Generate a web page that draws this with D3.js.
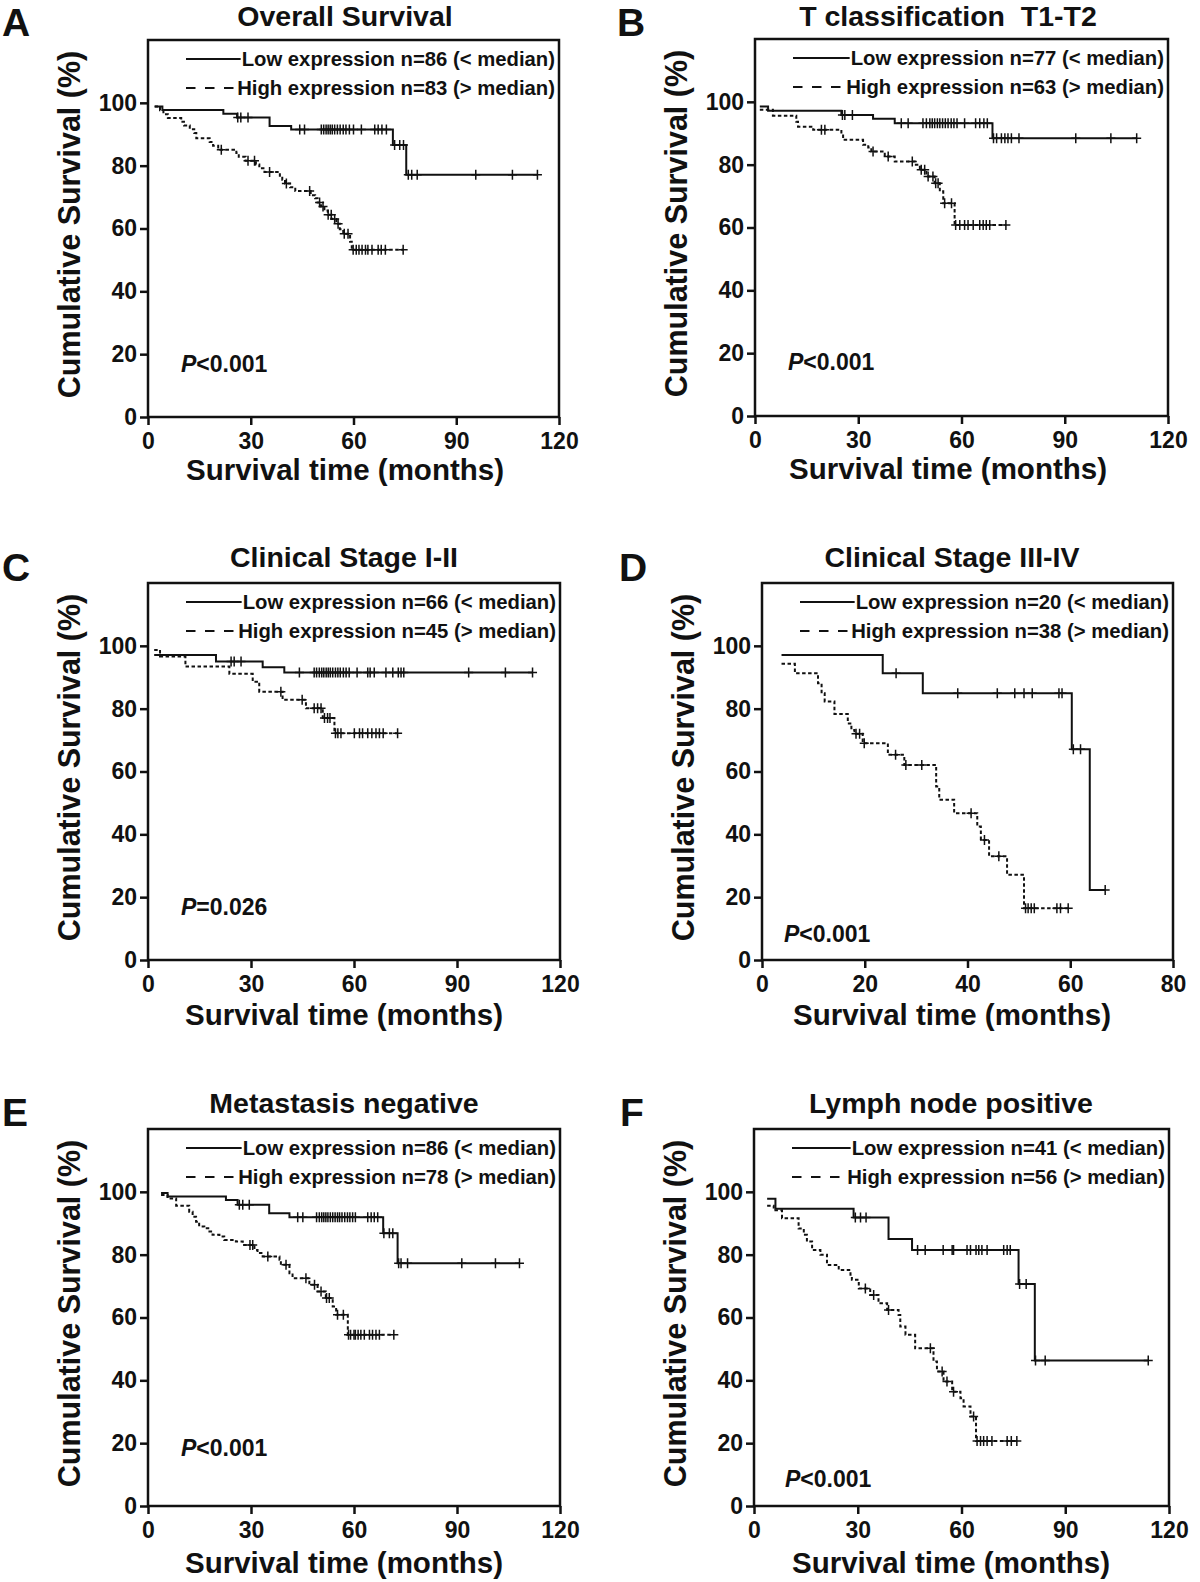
<!DOCTYPE html>
<html>
<head>
<meta charset="utf-8">
<script src="https://cdn.jsdelivr.net/npm/d3@7"></script>
<style>
  html, body { margin: 0; padding: 0; background: #fff; }
  svg text { font-family: "Liberation Sans", Arial, Helvetica, sans-serif; font-weight: bold; fill: #111; }
</style>
</head>
<body>
<svg id="chart" width="1200" height="1582"></svg>
<script>
// --- Data (months, cumulative survival %) ---
const panelLetters = ["A", "B", "C", "D", "E", "F"];
const panelTitles = ["Overall Survival", "T classification  T1-T2", "Clinical Stage I-II",
                     "Clinical Stage III-IV", "Metastasis negative", "Lymph node positive"];
const lowCounts = [86, 77, 66, 20, 86, 41];
const highCounts = [83, 63, 45, 38, 78, 56];
const pLabels = ["<0.001", "<0.001", "=0.026", "<0.001", "<0.001", "<0.001"];
const xMaxes = [120, 120, 120, 80, 120, 120];
const xTickSteps = [30, 30, 30, 20, 30, 30];
const yTicks = [0, 20, 40, 60, 80, 100];

// A - overall survival
const aLowSteps = [[2, 98.8], [4.2, 97.7], [22, 96.5], [26, 95.3], [35.5, 92.6], [41.8, 91.5], [71.5, 86.6], [75.4, 77.1]];
const aLowCensor = [26.2, 27.1, 29.2, 44.3, 45.7, 50.6, 51.3, 52.0, 52.6, 53.2, 53.8, 54.5, 55.3, 56.1, 57.0, 57.8, 58.8,
                    60.0, 62.3, 66.2, 67.2, 68.3, 69.6, 72.0, 73.5, 74.6, 76.0, 77.0, 78.6, 95.7, 106.4, 113.7];
const aHighSteps = [[1.9, 98.8], [3.5, 97.6], [4.5, 96.4], [5.8, 95.2], [9.7, 94.0], [10.5, 92.8], [12.2, 91.6], [13.5, 90.4],
                    [14.1, 88.7], [18, 87.5], [19, 86.3], [20.5, 85.1], [25.8, 84.0], [26.5, 82.8], [28.5, 81.6], [31.5, 80.4],
                    [32.5, 79.2], [34, 78.0], [38.5, 76.8], [39.2, 75.5], [40, 74.3], [41.5, 73.1], [43, 71.9], [47.5, 70.6],
                    [48.8, 69.6], [49.5, 68.3], [50.5, 67.0], [51.5, 65.7], [52.5, 64.4], [53.6, 63.0], [55.0, 61.5],
                    [56.0, 59.8], [57.0, 58.3], [59.0, 55.8], [59.5, 53.2]];
const aHighCensor = [21.4, 29.2, 31.1, 35.5, 40.4, 47.2, 50.1, 51.1, 52.6, 53.5, 54.5, 55.5, 57.3, 58.4, 59.9, 60.8, 61.6,
                     62.5, 63.5, 64.2, 65.4, 67.2, 68.1, 69.3, 74.5];

// B - T1-T2
const bLowSteps = [[1.4, 98.5], [3.8, 97.2], [25.1, 95.8], [34.3, 94.6], [40.6, 93.2], [69.0, 88.4]];
const bLowCensor = [25.4, 26.1, 28.3, 42.5, 44.5, 48.8, 49.8, 50.8, 51.5, 52.2, 53.0, 53.7, 54.5, 55.3, 56.1, 57.0, 57.8,
                    58.7, 60.9, 64.1, 65.3, 66.5, 67.5, 69.3, 70.2, 71.6, 72.6, 73.5, 74.5, 76.7, 93.2, 103.4, 110.9];
const bHighSteps = [[1.4, 97.5], [5.2, 95.6], [12.0, 93.7], [12.5, 92.1], [16.9, 91.1], [25.1, 89.7], [25.6, 87.9],
                    [31.4, 86.3], [32.9, 85.5], [33.8, 84.2], [37.7, 82.6], [40.6, 81.0], [46.4, 80.0], [47.9, 78.4],
                    [49.8, 76.2], [52.2, 74.1], [53.7, 71.5], [54.7, 67.7], [58.0, 60.8]];
const bHighCensor = [19.3, 20.3, 34.3, 38.7, 45.7, 48.3, 49.3, 50.3, 51.7, 52.5, 53.2, 55.1, 57.1, 58.3, 59.5, 60.9,
                     61.9, 63.4, 65.3, 66.3, 67.2, 68.2, 72.9];

// C - stage I-II
const cLowSteps = [[1.8, 97.1], [19.8, 95.0], [33.4, 93.2], [39.7, 91.5]];
const cLowCensor = [24.2, 25.1, 27.1, 44.1, 48.4, 49.1, 49.9, 50.6, 51.2, 51.9, 52.5, 53.1, 53.8, 54.6, 55.3, 56.0, 56.9,
                    57.7, 58.6, 60.9, 64.0, 64.7, 65.9, 69.3, 71.3, 72.9, 73.7, 74.5, 93.4, 104.1, 112.0];
const cHighSteps = [[1.8, 98.7], [3.5, 96.6], [10.9, 93.4], [23.7, 91.1], [30.5, 88.6], [32.4, 85.4], [39.2, 82.8],
                    [46.0, 80.1], [50.9, 77.0], [54.3, 72.2]];
const cHighCensor = [38.7, 44.9, 48.4, 49.4, 50.4, 51.4, 52.3, 53.0, 54.6, 55.3, 56.2, 60.1, 61.6, 62.5, 64.0, 65.2,
                     66.4, 67.4, 68.5, 72.7];

// D - stage III-IV
const dLowSteps = [[3.8, 97.1], [23.5, 91.3], [31.3, 84.9], [60.3, 67.1], [63.8, 22.3]];
const dLowCensor = [26.1, 38.1, 45.8, 49.2, 51.0, 52.6, 57.8, 58.4, 60.6, 62.0, 66.8];
const dHighSteps = [[3.8, 94.3], [6.4, 91.3], [10.9, 88.1], [11.6, 84.9], [12.2, 82.3], [14.1, 78.3], [16.7, 75.3],
                    [17.4, 73.2], [18.0, 72.0], [19.6, 69.0], [24.5, 65.3], [27.7, 62.1], [33.9, 55.2], [34.5, 51.0],
                    [37.4, 46.7], [41.9, 42.5], [42.6, 38.2], [44.2, 33.0], [47.7, 27.1], [51.0, 16.5]];
const dHighCensor = [18.3, 19.0, 19.9, 26.0, 28.0, 31.1, 40.7, 43.3, 46.1, 51.3, 51.8, 52.4, 53.0, 57.4, 58.1, 59.6];

// E - metastasis negative
const eLowSteps = [[3.8, 99.6], [5.7, 98.5], [22.7, 97.4], [26.1, 95.9], [35.3, 93.2], [41.2, 91.9], [68.5, 86.8], [72.7, 77.3]];
const eLowCensor = [26.6, 27.6, 29.5, 43.6, 45.1, 49.1, 49.9, 50.6, 51.2, 51.8, 52.4, 53.1, 53.8, 54.5, 55.2, 55.8, 56.5,
                    57.3, 58.1, 58.8, 59.6, 60.4, 64.0, 65.0, 65.9, 66.9, 68.7, 70.3, 71.3, 73.0, 73.7, 75.6, 91.4, 101.2, 108.2];
const eHighSteps = [[3.8, 99.0], [5.7, 97.9], [8.2, 95.6], [12.0, 93.7], [13.0, 92.1], [14.0, 90.5], [14.9, 89.0],
                    [16.4, 88.4], [17.9, 87.4], [18.8, 86.3], [20.8, 85.8], [22.2, 84.7], [25.6, 84.2], [27.6, 83.1],
                    [31.0, 81.5], [31.9, 80.5], [33.4, 79.4], [38.3, 78.4], [38.7, 76.8], [41.2, 74.1], [42.1, 72.5],
                    [47.0, 70.4], [49.4, 68.3], [51.8, 66.2], [53.8, 63.5], [54.8, 60.9], [58.2, 54.5]];
const eHighCensor = [29.7, 30.5, 34.9, 40.2, 46.0, 48.5, 50.4, 52.0, 52.8, 55.2, 56.9, 58.4, 59.0, 60.0, 60.4, 61.2,
                     62.0, 63.0, 64.5, 65.4, 66.4, 67.4, 71.6];

// F - lymph node positive
const fLowSteps = [[3.8, 97.8], [6.2, 94.6], [28.8, 91.8], [38.9, 85.0], [45.7, 81.5], [76.5, 70.7], [81.2, 46.3]];
const fLowCensor = [29.3, 30.8, 32.4, 47.3, 49.5, 54.7, 57.3, 57.7, 61.6, 62.6, 64.2, 65.0, 65.9, 67.4, 72.2, 73.2,
                    74.1, 76.8, 78.7, 81.4, 84.2, 114.0];
const fHighSteps = [[3.8, 95.6], [5.7, 94.1], [8.1, 91.6], [12.9, 88.3], [14.4, 86.3], [15.3, 84.2], [16.8, 81.5],
                    [19.2, 80.0], [21.1, 76.7], [24.5, 75.1], [27.9, 73.6], [28.3, 72.0], [30.3, 69.2], [33.6, 67.2],
                    [36.0, 64.5], [38.5, 62.4], [41.8, 60.8], [42.3, 57.1], [43.8, 54.5], [46.6, 50.2], [51.9, 46.0],
                    [52.9, 42.8], [54.8, 39.6], [57.3, 36.4], [59.7, 34.3], [60.6, 31.7], [62.6, 28.5], [64.2, 20.7]];
const fHighCensor = [32.2, 34.6, 38.9, 51.0, 54.4, 55.8, 57.7, 63.5, 64.5, 65.5, 66.4, 67.4, 68.8, 73.2, 74.4, 76.0];

const lowSteps = [aLowSteps, bLowSteps, cLowSteps, dLowSteps, eLowSteps, fLowSteps];
const lowCensor = [aLowCensor, bLowCensor, cLowCensor, dLowCensor, eLowCensor, fLowCensor];
const highSteps = [aHighSteps, bHighSteps, cHighSteps, dHighSteps, eHighSteps, fHighSteps];
const highCensor = [aHighCensor, bHighCensor, cHighCensor, dHighCensor, eHighCensor, fHighCensor];

// --- Layout (pixels) ---
const PLOT_H = 377;
const layout = [
    { left: 148, right: 559, bottom: 417, cx: 345, letterX: 2, letterY: 36, pDx: 33, pDy: 45, xlabDy: 63 },
    { left: 755, right: 1168, bottom: 416, cx: 948, letterX: 617, letterY: 36, pDx: 33, pDy: 46, xlabDy: 63 },
    { left: 148, right: 560, bottom: 960, cx: 344, letterX: 2, letterY: 581, pDx: 33, pDy: 45, xlabDy: 65 },
    { left: 762, right: 1173, bottom: 960, cx: 952, letterX: 619, letterY: 581, pDx: 22, pDy: 18, xlabDy: 65 },
    { left: 148, right: 560, bottom: 1506, cx: 344, letterX: 2, letterY: 1126, pDx: 33, pDy: 50, xlabDy: 67 },
    { left: 754, right: 1169, bottom: 1506, cx: 951, letterX: 620, letterY: 1126, pDx: 31, pDy: 19, xlabDy: 67 }
];
const INK = "#111";

const svg = d3.select("#chart");

function styleAxis(sel) {
    sel.attr("font-family", null).attr("font-size", null);
    sel.select(".domain").remove();
    sel.selectAll(".tick line").attr("stroke", INK).attr("stroke-width", 2.5);
    sel.selectAll(".tick text").attr("font-size", 23).attr("fill", INK);
}

layout.forEach((L, i) => {
    const top = L.bottom - PLOT_H;
    const x = d3.scaleLinear().domain([0, xMaxes[i]]).range([L.left, L.right]);
    const y = d3.scaleLinear().domain([0, 120]).range([L.bottom, top]);
    const g = svg.append("g").attr("class", "panel");

    // panel letter and title
    g.append("text").attr("x", L.letterX).attr("y", L.letterY)
        .attr("font-size", 39).text(panelLetters[i]);
    g.append("text").attr("x", L.cx).attr("y", Math.max(top - 16, 26))
        .attr("text-anchor", "middle").attr("font-size", 28.5)
        .style("white-space", "pre").text(panelTitles[i]);

    // axes
    g.append("g").attr("transform", `translate(0,${L.bottom})`)
        .call(d3.axisBottom(x).tickValues(d3.range(0, xMaxes[i] + 1, xTickSteps[i]))
            .tickSize(8).tickSizeOuter(0).tickPadding(8))
        .call(styleAxis);
    g.append("g").attr("transform", `translate(${L.left},0)`)
        .call(d3.axisLeft(y).tickValues(yTicks).tickSize(8).tickSizeOuter(0).tickPadding(3))
        .call(styleAxis);

    // frame
    g.append("rect").attr("x", L.left).attr("y", top)
        .attr("width", L.right - L.left).attr("height", L.bottom - top)
        .attr("fill", "none").attr("stroke", INK).attr("stroke-width", 2.5);

    // axis titles
    g.append("text").attr("x", L.cx).attr("y", L.bottom + L.xlabDy)
        .attr("text-anchor", "middle").attr("font-size", 29.5)
        .text("Survival time (months)");
    g.append("text")
        .attr("transform", `translate(${L.left - 68},${(top + L.bottom) / 2 - 4}) rotate(-90)`)
        .attr("text-anchor", "middle").attr("font-size", 30.5)
        .text("Cumulative Survival (%)");

    // Kaplan-Meier curves
    const line = d3.line().x(d => x(d[0])).y(d => y(d[1])).curve(d3.curveStepAfter);
    const bis = d3.bisector(d => d[0]).right;

    function drawCurve(steps, cens, dashed) {
        const last = steps[steps.length - 1];
        const endT = Math.max(d3.max(cens), last[0]);
        const pts = steps.concat([[endT, last[1]]]);
        g.append("path").attr("d", line(pts))
            .attr("fill", "none").attr("stroke", INK).attr("stroke-width", 2)
            .attr("stroke-dasharray", dashed ? "3.5,2.5" : null);
        g.append("g").selectAll("path").data(cens).join("path")
            .attr("d", c => {
                const s = steps[Math.max(0, bis(steps, c) - 1)][1];
                const cx = x(c), cy = y(s);
                return `M${cx - 4.5},${cy}H${cx + 4.5}M${cx},${cy - 5}V${cy + 5}`;
            })
            .attr("stroke", INK).attr("stroke-width", 1.5);
    }
    drawCurve(highSteps[i], highCensor[i], true);
    drawCurve(lowSteps[i], lowCensor[i], false);

    // legend
    const lx0 = L.left + 38, tx = L.right - 4;
    const t1 = g.append("text").attr("x", tx).attr("y", top + 26)
        .attr("text-anchor", "end").attr("font-size", 20.3)
        .text(`Low expression n=${lowCounts[i]} (< median)`);
    const t2 = g.append("text").attr("x", tx).attr("y", top + 55)
        .attr("text-anchor", "end").attr("font-size", 20.3)
        .text(`High expression n=${highCounts[i]} (> median)`);
    g.append("line").attr("x1", lx0).attr("x2", tx - t1.node().getComputedTextLength() - 1)
        .attr("y1", top + 19).attr("y2", top + 19)
        .attr("stroke", INK).attr("stroke-width", 2);
    g.append("line").attr("x1", lx0).attr("x2", tx - t2.node().getComputedTextLength())
        .attr("y1", top + 48).attr("y2", top + 48)
        .attr("stroke", INK).attr("stroke-width", 2).attr("stroke-dasharray", "9.5,9.5");

    // p value
    const p = g.append("text").attr("x", L.left + L.pDx).attr("y", L.bottom - L.pDy).attr("font-size", 23);
    p.append("tspan").attr("font-style", "italic").text("P");
    p.append("tspan").text(pLabels[i]);
});
</script>
</body>
</html>
